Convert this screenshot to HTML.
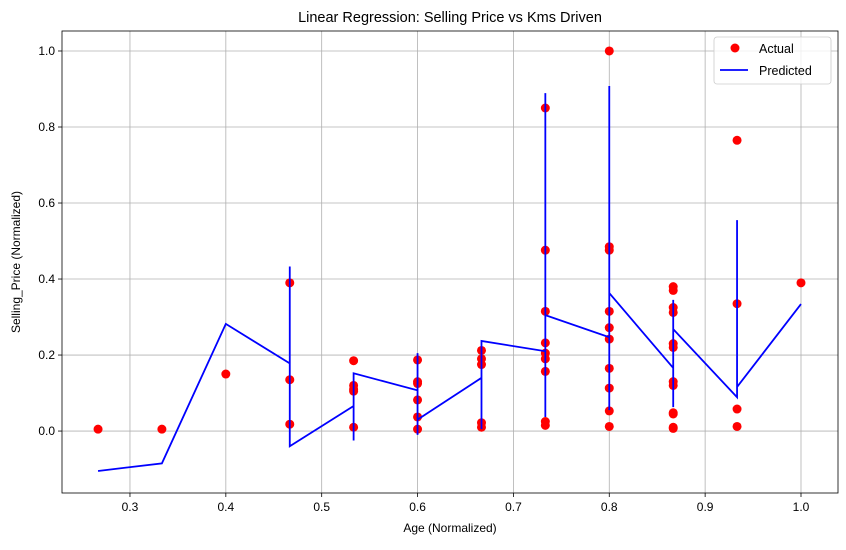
<!DOCTYPE html>
<html><head><meta charset="utf-8"><style>
body{margin:0;background:#fff;font-family:"Liberation Sans","DejaVu Sans",sans-serif;}
svg text{font-family:"Liberation Sans","DejaVu Sans",sans-serif;}
</style></head><body>
<svg id="chart" width="846" height="545" xmlns="http://www.w3.org/2000/svg"></svg>
<script>
const xTicks=[0.3,0.4,0.5,0.6,0.7,0.8,0.9,1.0];
const yTicks=[0.0,0.2,0.4,0.6,0.8,1.0];
const actualX=[0.2667,0.3333,0.4,0.4667,0.4667,0.4667,0.5333,0.5333,0.5333,0.5333,0.5333,0.6,0.6,0.6,0.6,0.6,0.6,0.6667,0.6667,0.6667,0.6667,0.6667,0.7333,0.7333,0.7333,0.7333,0.7333,0.7333,0.7333,0.7333,0.7333,0.8,0.8,0.8,0.8,0.8,0.8,0.8,0.8,0.8,0.8,0.8667,0.8667,0.8667,0.8667,0.8667,0.8667,0.8667,0.8667,0.8667,0.8667,0.8667,0.8667,0.9333,0.9333,0.9333,0.9333,1.0];
const actualY=[0.005,0.005,0.15,0.39,0.135,0.018,0.185,0.12,0.11,0.105,0.01,0.187,0.13,0.125,0.082,0.037,0.005,0.212,0.19,0.175,0.022,0.01,0.85,0.476,0.315,0.232,0.205,0.19,0.157,0.025,0.015,1.0,0.485,0.476,0.315,0.272,0.242,0.165,0.113,0.053,0.012,0.38,0.37,0.325,0.312,0.23,0.22,0.13,0.12,0.048,0.045,0.01,0.007,0.765,0.335,0.058,0.012,0.39];
const predX=[0.2667,0.3333,0.4,0.4667,0.4667,0.4667,0.5333,0.5333,0.5333,0.6,0.6,0.6,0.6,0.6667,0.6667,0.6667,0.7333,0.7333,0.7333,0.7333,0.8,0.8,0.8,0.8,0.8667,0.8667,0.8667,0.8667,0.9333,0.9333,0.9333,1.0];
const predY=[-0.105,-0.085,0.282,0.178,0.433,-0.04,0.066,-0.025,0.152,0.107,0.205,-0.01,0.03,0.14,0.005,0.237,0.21,0.889,0.037,0.305,0.247,0.908,0.055,0.363,0.166,0.345,0.063,0.268,0.089,0.555,0.116,0.334];

const L=62,R=838,T=31,B=493;
const xMin=0.2291,xMax=1.0386,yMin=-0.163,yMax=1.0526;
const sx=v=>L+(v-xMin)/(xMax-xMin)*(R-L);
const sy=v=>B-(v-yMin)/(yMax-yMin)*(B-T);
const svg=document.getElementById('chart');
const NS='http://www.w3.org/2000/svg';
function mk(tag,attrs,parent){const e=document.createElementNS(NS,tag);for(const k in attrs)e.setAttribute(k,attrs[k]);(parent||svg).appendChild(e);return e;}

const grid=mk('g',{});


xTicks.forEach(t=>{
  const l=mk('line',{x1:sx(t),x2:sx(t),y1:T,y2:B,stroke:'#b0b0b0','stroke-width':0.8},grid);
  
  
  const tk=mk('line',{x1:sx(t),x2:sx(t),y1:B,y2:B+4,stroke:'#000','stroke-width':0.8});
  
  
  const tx=mk('text',{x:sx(t),y:B+18,'text-anchor':'middle','font-size':12});
  tx.textContent=t.toFixed(1);
  
  
});
yTicks.forEach(t=>{
  const l=mk('line',{x1:L,x2:R,y1:sy(t),y2:sy(t),stroke:'#b0b0b0','stroke-width':0.8},grid);
  
  
  const tk=mk('line',{x1:L-4,x2:L,y1:sy(t),y2:sy(t),stroke:'#000','stroke-width':0.8});
  
  
  const tx=mk('text',{x:L-7,y:sy(t)+4,'text-anchor':'end','font-size':12});
  tx.textContent=t.toFixed(1);
  
  
});

actualX.forEach((x,i)=>{
  const c=mk('circle',{cx:sx(x),cy:sy(actualY[i]),r:4.5,fill:'#ff0000'});
  
  
});
const pl=mk('polyline',{points:predX.map((x,i)=>sx(x)+','+sy(predY[i])).join(' '),fill:'none',stroke:'#0000ff','stroke-width':1.8});



const frame=mk('rect',{x:L,y:T,width:R-L,height:B-T,fill:'none',stroke:'#000','stroke-width':0.8});



const title=mk('text',{x:(L+R)/2,y:22,'text-anchor':'middle','font-size':14.5});
title.textContent='Linear Regression: Selling Price vs Kms Driven';


const xl=mk('text',{x:(L+R)/2,y:532,'text-anchor':'middle','font-size':12});
xl.textContent='Age (Normalized)';


const yl=mk('text',{x:20,y:(T+B)/2,'text-anchor':'middle','font-size':12,transform:'rotate(-90 20 '+((T+B)/2)+')'});
yl.textContent='Selling_Price (Normalized)';



const lg=mk('g',{});


mk('rect',{x:714,y:37,width:117,height:47,rx:3,fill:'#fff','fill-opacity':0.8,stroke:'#ccc','stroke-width':0.8},lg);
const lc=mk('circle',{cx:735,cy:48,r:4.5,fill:'#ff0000'},lg);


const lt1=mk('text',{x:759,y:53,'font-size':12.5},lg);lt1.textContent='Actual';


const ll=mk('line',{x1:720,x2:748,y1:70,y2:70,stroke:'#0000ff','stroke-width':1.8},lg);


const lt2=mk('text',{x:759,y:75,'font-size':12.5},lg);lt2.textContent='Predicted';


</script>
</body></html>
